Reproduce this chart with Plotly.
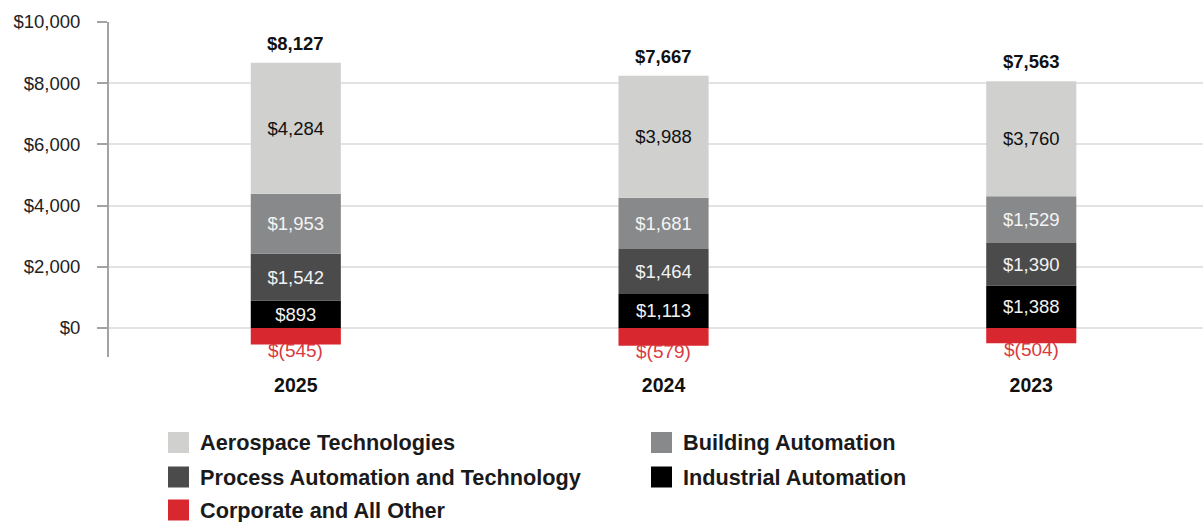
import plotly.graph_objects as go

# Segment results by year ($ millions)
years = ["2025", "2024", "2023"]
aerospace = [4284, 3988, 3760]
building = [1953, 1681, 1529]
process = [1542, 1464, 1390]
industrial = [893, 1113, 1388]
corporate = [-545, -579, -504]

y_ticks = [0, 2000, 4000, 6000, 8000, 10000]
y_tick_text = [f"&#36;{v:,}" for v in y_ticks]

FONT = "Liberation Sans, Arial, sans-serif"
W, H = 1203, 522
M_L, M_R, M_T, M_B = 109, 0, 22, 165
PLOT_W = W - M_L - M_R
PLOT_H = H - M_T - M_B

# (name, values, bar colour, label colour); stacking order is bottom to top
segments = [
    ("Industrial Automation", industrial, "#000000", "#f2f2f2"),
    ("Process Automation and Technology", process, "#4b4b4b", "#f2f2f2"),
    ("Building Automation", building, "#87898b", "#f4f4f4"),
    ("Aerospace Technologies", aerospace, "#d0d0ce", "#111111"),
]
corp_name = "Corporate and All Other"
corp_color = "#d8272e"
corp_text = "#d93a40"

fig = go.Figure()
for name, vals, col, tcol in segments:
    fig.add_trace(go.Bar(
        x=years, y=vals, name=name, width=0.245,
        marker=dict(color=col, line=dict(width=0)),
        texttemplate="$%{y:,}", textposition="inside",
        insidetextanchor="middle", constraintext="none",
        textfont=dict(family=FONT, size=18.5, color=tcol),
        showlegend=False, hoverinfo="skip",
    ))
fig.add_trace(go.Bar(
    x=years, y=corporate, name=corp_name, width=0.245,
    marker=dict(color=corp_color, line=dict(width=0)),
    showlegend=False, hoverinfo="skip",
))

annotations = []
for i, yr in enumerate(years):
    pos_total = aerospace[i] + building[i] + process[i] + industrial[i]
    net = pos_total + corporate[i]
    annotations.append(dict(
        x=i, y=pos_total, xref="x", yref="y", text=f"<b>&#36;{net:,}</b>",
        showarrow=False, yanchor="bottom", yshift=7,
        font=dict(family=FONT, size=18.5, color="#111111"),
    ))
    annotations.append(dict(
        x=i, y=corporate[i], xref="x", yref="y", text=f"&#36;({abs(corporate[i]):,})",
        showarrow=False, yanchor="middle", yshift=-6,
        font=dict(family=FONT, size=19, color=corp_text),
    ))

# Legend: two columns of swatches with bold labels below the plot
legend_items = [
    ("Aerospace Technologies", "#d0d0ce"),
    ("Building Automation", "#87898b"),
    ("Process Automation and Technology", "#4b4b4b"),
    ("Industrial Automation", "#000000"),
    (corp_name, corp_color),
]
col_x = [168, 651]
row_y = [442.5, 477, 510]
sw = 21


def px_to_paper_x(px):
    return (px - M_L) / PLOT_W


def px_to_paper_y(py):
    return (H - M_B - py) / PLOT_H


shapes = []
for k, (label, col) in enumerate(legend_items):
    cx = col_x[k % 2]
    cy = row_y[k // 2]
    shapes.append(dict(
        type="rect", xref="paper", yref="paper",
        x0=px_to_paper_x(cx), x1=px_to_paper_x(cx + sw),
        y0=px_to_paper_y(cy + sw / 2), y1=px_to_paper_y(cy - sw / 2),
        fillcolor=col, line=dict(width=0), layer="above",
    ))
    annotations.append(dict(
        x=px_to_paper_x(cx + 30), y=px_to_paper_y(cy), xref="paper", yref="paper",
        text=f"<b>{label}</b>", showarrow=False, xanchor="left", yanchor="middle",
        font=dict(family=FONT, size=21.7, color="#1a1a1a"),
    ))

fig.update_layout(
    width=W, height=H,
    margin=dict(l=M_L, r=M_R, t=M_T, b=M_B, pad=0),
    barmode="relative",
    plot_bgcolor="white", paper_bgcolor="white",
    font=dict(family=FONT),
    annotations=annotations,
    shapes=shapes,
    showlegend=False,
    xaxis=dict(
        type="category", range=[-0.508, 2.467],
        showgrid=False, showline=False, ticks="", zeroline=False,
        tickfont=dict(family=FONT, size=19.5, color="#111111", weight="bold"),
        ticklabelstandoff=14,
    ),
    yaxis=dict(
        range=[-950, 10000], tickvals=y_ticks, ticktext=y_tick_text,
        showgrid=True, gridcolor="#e3e3e3", gridwidth=1.5,
        showline=True, linecolor="#a3a3a3", linewidth=2,
        ticks="outside", ticklen=10, tickcolor="#a3a3a3", tickwidth=2,
        zeroline=False,
        tickfont=dict(family=FONT, size=18.5, color="#222222"),
        ticklabelstandoff=13,
    ),
)

fig.write_html("out.html")
